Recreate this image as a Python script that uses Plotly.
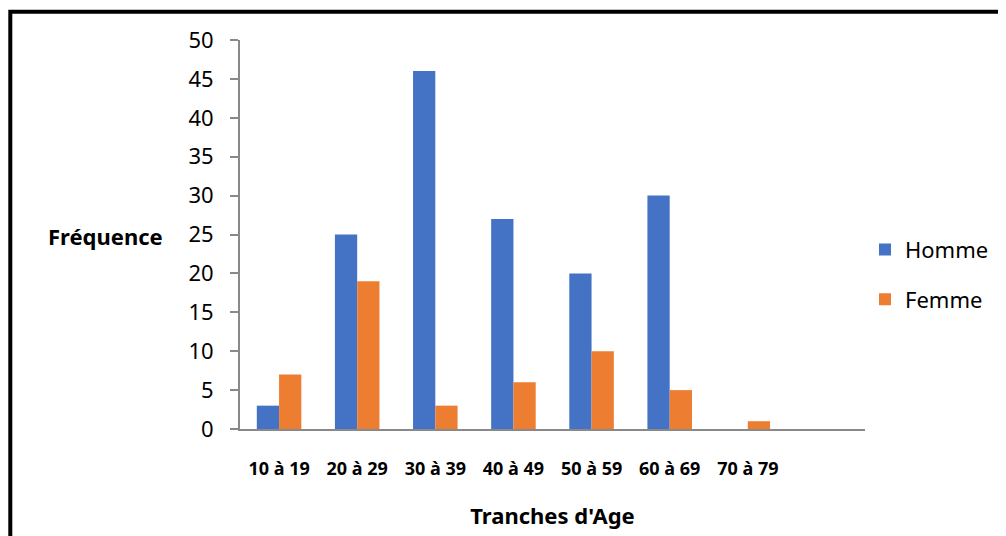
import plotly.graph_objects as go

categories = ["10 à 19", "20 à 29", "30 à 39", "40 à 49", "50 à 59", "60 à 69", "70 à 79"]
homme = [3, 25, 46, 27, 20, 30, None]
femme = [7, 19, 3, 6, 10, 5, 1]
y_ticks = [0, 5, 10, 15, 20, 25, 30, 35, 40, 45, 50]

FONT = "Noto Sans"
AXIS_GRAY = "#898989"
OFF = 8  # page body margin

fig = go.Figure()
fig.add_trace(go.Bar(x=categories, y=homme, name="Homme", marker_color="#4472C4",
                     marker_line_width=0, legendgroup="h"))
fig.add_trace(go.Bar(x=categories, y=femme, name="Femme", marker_color="#ED7D31",
                     marker_line_width=0, legendgroup="f"))

L, T, PW, PH = 240 - OFF, 40 - OFF, 625, 389.5

fig.update_layout(
    width=1006, height=536,
    margin=dict(l=L, r=1006 - L - PW, t=T, b=536 - T - PH, pad=0),
    paper_bgcolor="white", plot_bgcolor="white",
    barmode="group", bargap=0.43, bargroupgap=0,
    font=dict(family=FONT, color="black"),
    showlegend=True,
    legend=dict(x=1.0, xanchor="left", y=(PH - (221 - T)) / PH, yanchor="top",
                font=dict(size=22, family=FONT, color="black"),
                tracegroupgap=18, traceorder="grouped",
                bgcolor="rgba(0,0,0,0)"),
    xaxis=dict(
        type="category", range=[-0.5, 7.5],
        showline=True, linecolor=AXIS_GRAY, linewidth=2,
        ticks="", showgrid=False, zeroline=False,
        tickfont=dict(size=18, family=FONT, color="black", weight="bold"),
        ticklabelstandoff=22,
        title=dict(text="<b>Tranches d'Age</b>", font=dict(size=22, family=FONT, color="black"),
                   standoff=30),
    ),
    yaxis=dict(
        range=[0, 50], tickvals=y_ticks,
        showline=True, linecolor=AXIS_GRAY, linewidth=2,
        ticks="outside", ticklen=8, tickwidth=1.5, tickcolor=AXIS_GRAY,
        showgrid=False, zeroline=False,
        tickfont=dict(size=22, family=FONT, color="black"),
        ticklabelstandoff=12,
    ),
    annotations=[dict(text="<b>Fréquence</b>", xref="paper", yref="paper",
                      x=(105 - 240) / PW, y=(429.5 - 236) / PH,
                      xanchor="center", yanchor="middle", showarrow=False,
                      font=dict(size=22, family=FONT, color="black"))],
    shapes=[dict(type="rect", xref="paper", yref="paper",
                 x0=(10.3 - 240) / PW, x1=2.0,
                 y0=-1.0, y1=(429.5 - 11.7) / PH,
                 line=dict(color="black", width=4), fillcolor="rgba(0,0,0,0)",
                 layer="above")],
)

fig.write_html("out.html")
